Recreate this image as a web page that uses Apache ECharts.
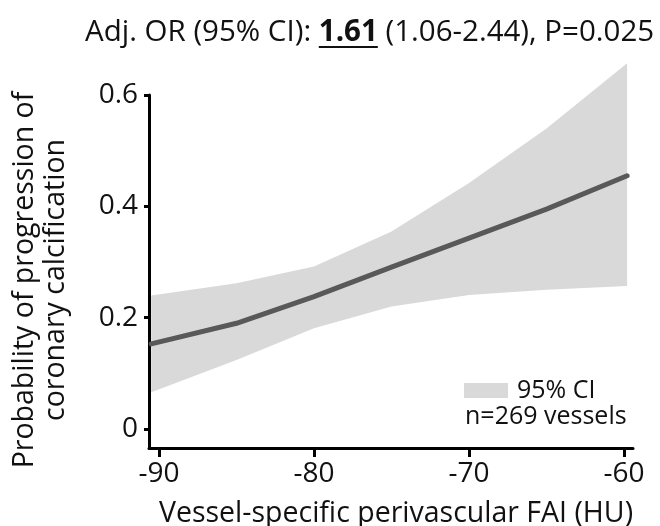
<!DOCTYPE html>
<html>
<head>
<meta charset="utf-8">
<script src="https://cdn.jsdelivr.net/npm/echarts@6/dist/echarts.min.js"></script>
<style>
html,body{margin:0;padding:0;background:#fff;}
#chart{width:660px;height:526px;}
</style>
</head>
<body>
<div id="chart"></div>
<script>
// ---- data ----
var xValues = [-90.5, -85, -80, -75, -70, -65, -59.8];
var probability = [0.153, 0.190, 0.238, 0.291, 0.343, 0.395, 0.455];
var ciLower = [0.066, 0.124, 0.181, 0.220, 0.241, 0.250, 0.257];
var ciUpper = [0.240, 0.262, 0.292, 0.355, 0.442, 0.540, 0.657];
var xTicks = [-90, -80, -70, -60];
var yTicks = [0, 0.2, 0.4, 0.6];
var titleParts = ['Adj. OR (95% CI): ', '1.61', ' (1.06-2.44), P=0.025'];
var xAxisTitle = 'Vessel-specific perivascular FAI (HU)';
var yAxisTitle = ['Probability of progression of', 'coronary calcification'];
var bandName = '95% CI';
var noteText = 'n=269 vessels';

var FONT = 'Open Sans';
var TXT = '#111';
var chart = echarts.init(document.getElementById('chart'));

function pairs(ys) { return xValues.map(function (x, i) { return [x, ys[i]]; }); }
var bandData = xValues.map(function (x, i) { return [x, ciLower[i], ciUpper[i]]; });

// measure title for underline
var TS = 29.5;
var cv = document.createElement('canvas').getContext('2d');
cv.font = TS + 'px "' + FONT + '"';
var w0 = cv.measureText(titleParts[0]).width;
cv.font = 'bold ' + TS + 'px "' + FONT + '"';
var w1 = cv.measureText(titleParts[1]).width;
var titleLeft = 85, titleTop = 16;

var option = {
  animation: false,
  backgroundColor: '#fff',
  title: {
    left: titleLeft, top: titleTop, padding: 0,
    text: '{a|' + titleParts[0] + '}{b|' + titleParts[1] + '}{a|' + titleParts[2] + '}',
    textStyle: {
      rich: {
        a: { fontFamily: FONT, fontSize: TS, fontWeight: 'normal', color: TXT, lineHeight: 34 },
        b: { fontFamily: FONT, fontSize: TS, fontWeight: 'bold', color: TXT, lineHeight: 34 }
      }
    }
  },
  grid: { left: 149, right: 27, top: 95, bottom: 78, outerBoundsMode: 'none' },
  legend: {
    left: 464, top: 378, padding: 0,
    itemWidth: 44, itemHeight: 15, itemGap: 0,
    data: [{ name: bandName, icon: 'rect', itemStyle: { color: '#d9d9d9' } }],
    textStyle: { fontFamily: FONT, fontSize: 25, color: TXT, padding: [0, 0, 0, 4] },
    selectedMode: false
  },
  xAxis: {
    type: 'value', min: -90.645, max: -59.42,
    splitLine: { show: false },
    axisLine: { show: true, onZero: false, lineStyle: { color: '#000', width: 3 } },
    axisTick: { show: true, length: 9, lineStyle: { color: '#000', width: 3 }, customValues: xTicks },
    axisLabel: { customValues: xTicks, fontFamily: FONT, fontSize: 28, color: TXT, margin: 12 },
    name: xAxisTitle, nameLocation: 'middle', nameGap: 51,
    nameTextStyle: { fontFamily: FONT, fontSize: 28.5, color: TXT, padding: [0, 0, 0, 10] }
  },
  yAxis: {
    type: 'value', min: -0.034, max: 0.6,
    splitLine: { show: false },
    axisLine: { show: true, onZero: false, lineStyle: { color: '#000', width: 3 } },
    axisTick: { show: true, length: 5, lineStyle: { color: '#000', width: 3 }, customValues: yTicks },
    axisLabel: {
      customValues: yTicks, fontFamily: FONT, fontSize: 28, color: TXT, margin: 11,
      formatter: function (v) { return v === 0 ? '0' : String(v); }
    }
  },
  graphic: [
    {
      type: 'line', silent: true,
      shape: { x1: titleLeft + w0, y1: titleTop + 31, x2: titleLeft + w0 + w1, y2: titleTop + 31 },
      style: { stroke: TXT, lineWidth: 2 }
    },
    {
      type: 'text', x: 40, y: 280, rotation: Math.PI / 2,
      style: {
        text: yAxisTitle.join('\n'), font: '28.5px "' + FONT + '"', fill: TXT,
        align: 'center', verticalAlign: 'middle', lineHeight: 31
      }
    },
    {
      type: 'text', x: 465, y: 417,
      style: { text: noteText, font: '25px "' + FONT + '"', fill: TXT, align: 'left', verticalAlign: 'middle' }
    }
  ],
  series: [
    {
      name: bandName, type: 'custom', data: bandData, silent: true, z: 1,
      itemStyle: { color: '#d9d9d9' },
      encode: { x: 0, y: [1, 2] },
      renderItem: function (params, api) {
        if (params.dataIndex !== 0) return null;
        var upper = [], lower = [];
        for (var i = 0; i < bandData.length; i++) {
          upper.push(api.coord([bandData[i][0], bandData[i][2]]));
          lower.unshift(api.coord([bandData[i][0], bandData[i][1]]));
        }
        return {
          type: 'polygon',
          shape: { points: upper.concat(lower) },
          style: { fill: '#d9d9d9', stroke: null }
        };
      }
    },
    {
      name: 'probability', type: 'line', data: pairs(probability),
      symbol: 'none', lineStyle: { color: '#595959', width: 5, cap: 'round', join: 'round' }, z: 3
    }
  ]
};
chart.setOption(option);
</script>
</body>
</html>
